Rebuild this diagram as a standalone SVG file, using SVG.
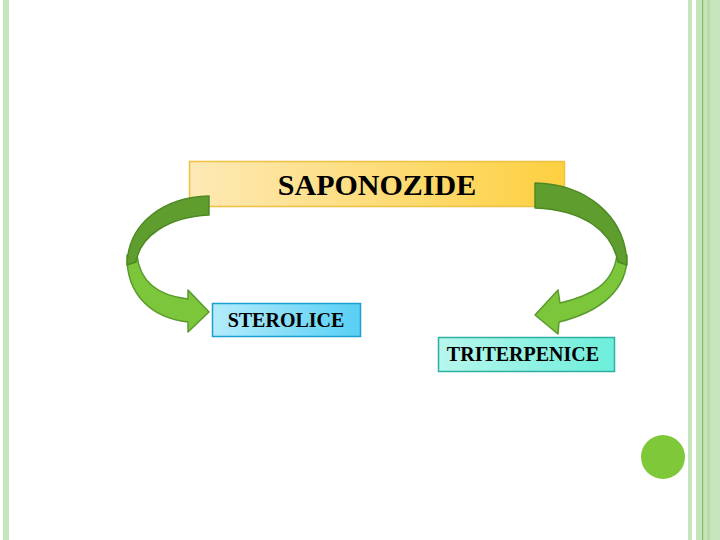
<svg xmlns="http://www.w3.org/2000/svg" width="720" height="540" viewBox="0 0 720 540">
<style>
.lbl{font-family:"Liberation Serif","Times New Roman",serif;font-weight:bold;fill:#000;text-anchor:middle}
.dark{fill:#5e9d2e;stroke:#4e8a24;stroke-width:1.5;stroke-linejoin:round}
.light{fill:#7cc63c;stroke:#5a9a2c;stroke-width:1.5;stroke-linejoin:round}
.stripe{fill:#c6e5bc}
</style>
<defs>
<linearGradient id="gY" x1="0" y1="0" x2="1" y2="0">
<stop offset="0" stop-color="#fde9b6"/><stop offset="1" stop-color="#fdd040"/>
</linearGradient>
<linearGradient id="gB" x1="0" y1="0" x2="1" y2="0">
<stop offset="0" stop-color="#b4ecfc"/><stop offset="1" stop-color="#58cff4"/>
</linearGradient>
<linearGradient id="gT" x1="0" y1="0" x2="1" y2="0">
<stop offset="0" stop-color="#b8f6ec"/><stop offset="1" stop-color="#6ceedb"/>
</linearGradient>
</defs>
<rect width="720" height="540" fill="#ffffff"/>
<g id="frame">
<rect class="stripe" x="3" y="0" width="6" height="540"/>
<rect class="stripe" x="688" y="0" width="4" height="540"/>
<rect class="stripe" x="696" y="0" width="24" height="540"/>
<rect x="702" y="0" width="1.2" height="540" fill="#80c060"/>
<rect x="707" y="0" width="3" height="540" fill="#b8dca8"/>
<circle cx="663" cy="457" r="22" fill="#7ec83a"/>
</g>
<g id="saponozide">
<rect x="189.5" y="161.5" width="375" height="45" fill="url(#gY)" stroke="#f0c040" stroke-width="1.5"/>
<text class="lbl" x="377" y="195" font-size="30">SAPONOZIDE</text>
</g>
<g id="sterolice">
<rect x="212.5" y="303.5" width="148" height="33" fill="url(#gB)" stroke="#1a9fd0" stroke-width="1.5"/>
<text class="lbl" x="286" y="327" font-size="20">STEROLICE</text>
</g>
<g id="triterpenice">
<rect x="438.5" y="337.5" width="176" height="34" fill="url(#gT)" stroke="#2eb0a0" stroke-width="1.5"/>
<text class="lbl" x="523" y="361" font-size="20">TRITERPENICE</text>
</g>
<g id="connectors">
<path class="light" d="M127,255 C126,295 152,318 188,322 L188,332 L209,312 L188,290 L188,299 C162,296 140,285 137,255 Z"/>
<path class="dark" d="M209,196 C165,197 128,222 127,265 L136,262 C140,236 168,217 209,215 Z"/>
<path class="light" d="M627,255 C628,290 600,312 559,322 L558,334 L535,315 L558,290 L560,303 C590,296 613,285 617,255 Z"/>
<path class="dark" d="M535,183 C585,184 626,215 627,265 L618,262 C612,232 585,210 535,208 Z"/>
</g>
</svg>
